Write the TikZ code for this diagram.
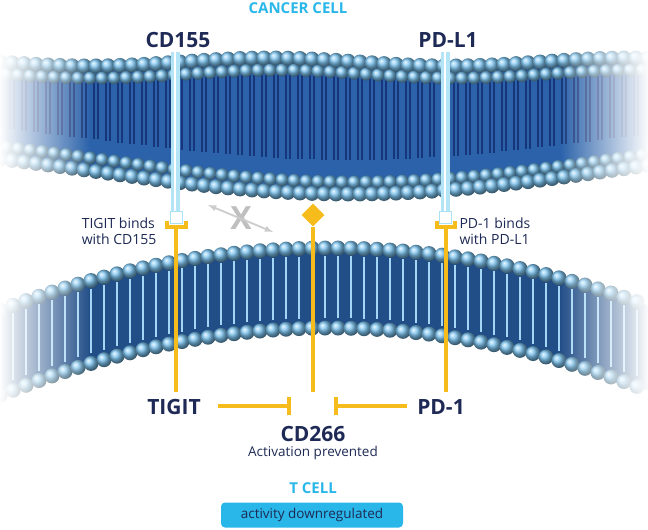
\documentclass[tikz,border=0pt]{standalone}
\usepackage{fontspec}
\setmainfont{Open Sans}
\usetikzlibrary{fadings,shapes.geometric}
\definecolor{navy}{HTML}{1E2A55}
\definecolor{cyanc}{HTML}{29B6E8}
\definecolor{gold}{HTML}{F5BC1C}
\definecolor{head}{HTML}{7CC4F0}
\definecolor{tail}{HTML}{16357A}
\definecolor{mem}{HTML}{2B62AA}
\tikzset{
 lbl/.style={text=navy,font=\bfseries\fontsize{21}{21}\selectfont},
 sm/.style={text=navy,font=\fontsize{14}{16}\selectfont,align=left},
 ttl/.style={text=cyanc,font=\bfseries\fontsize{15}{15}\selectfont},
 yel/.style={gold,line width=3.4pt},
 hd/.style={ball color=head,draw=none},
}
\begin{document}
\begin{tikzpicture}[x=1pt,y=-1pt]
\useasboundingbox (0,0) rectangle (648,530);
% upper membrane
\fill[mem] plot[domain=0:648,samples=60] (\x,{62+4*sin(\x)}) -- plot[domain=648:0,samples=60] (\x,{172+22*sin((\x-100)/500*180)}) -- cycle;
\foreach \x in {0,12,...,648}{
 \draw[tail,line width=1.2pt] (\x-2,{66}) -- (\x-2,{140+20*sin((\x-100)/500*180)});
 \draw[tail,line width=1.2pt] (\x+2,{66}) -- (\x+2,{140+20*sin((\x-100)/500*180)});
}
\foreach \x in {0,12,...,648}{
 \shade[hd] (\x,{62+4*sin(\x)}) circle (7.5);
 \shade[hd] (\x+6,{74+4*sin(\x)}) circle (6.5);
 \shade[hd] (\x,{172+22*sin((\x-100)/500*180)}) circle (7.5);
 \shade[hd] (\x+6,{160+22*sin((\x-100)/500*180)}) circle (6.5);
}
% lower membrane
\fill[mem!80!black] plot[domain=0:648,samples=60] (\x,{248+5.7*((\x-330)/100)^2}) -- plot[domain=648:0,samples=60] (\x,{328+6.2*((\x-330)/100)^2}) -- cycle;
\foreach \x in {0,13,...,648}{
 \draw[head!70!white,line width=1.2pt] (\x,{256+5.7*((\x-330)/100)^2}) -- (\x,{318+6.2*((\x-330)/100)^2});
}
\foreach \x in {0,13,...,648}{
 \shade[hd] (\x,{248+5.7*((\x-330)/100)^2}) circle (7.5);
 \shade[hd] (\x,{328+6.2*((\x-330)/100)^2}) circle (7.5);
}
% edge fades
\fill[white,path fading=east] (-1,0) rectangle (90,420);
\fill[white,path fading=west] (560,0) rectangle (649,420);
% receptor lines
\draw[cyanc!35,line width=9pt] (175,52) -- (175,212);
\draw[white,line width=2.5pt] (175,52) -- (175,212);
\node[draw=cyanc!40,fill=white,minimum size=12pt,inner sep=0pt] (sqL) at (176,217) {};
\draw[cyanc!35,line width=9pt] (445,52) -- (445,212);
\draw[white,line width=2.5pt] (445,52) -- (445,212);
\node[draw=cyanc!40,fill=white,minimum size=12pt,inner sep=0pt] (sqR) at (445,217) {};
% yellow cups
\draw[yel] (167,221) -- (167,227) -- (186,227) -- (186,221);
\draw[yel] (176,227) -- (176,392);
\draw[yel] (437,221) -- (437,227) -- (455,227) -- (455,221);
\draw[yel] (446,227) -- (446,392);
% diamond
\node[diamond,fill=gold,minimum size=23pt,inner sep=0pt] (dia) at (313,215) {};
\draw[yel] (dia.south) -- (313,392);
% X
\node[text=gray!50,font=\bfseries\fontsize{32}{32}\selectfont] (xx) at (241,218) {X};
\draw[gray!40,line width=1.8pt,<->,>=latex] (208,205) -- (273,232);
% labels
\node[ttl] (cc) at (298,8) {CANCER CELL};
\node[lbl] (cd155) at (178,40) {CD155};
\node[lbl] (pdl1) at (448,40) {PD-L1};
\node[sm,anchor=east] (tb) at (160,231) {TIGIT binds\\with CD155};
\node[sm,anchor=west] (pb) at (456,231) {PD-1 binds\\with PD-L1};
\node[lbl] (tigit) at (174,407) {TIGIT};
\node[lbl] (pd1) at (441,407) {PD-1};
\draw[yel] (218,406) -- (289,406);
\draw[yel] (289,397) -- (289,415);
\draw[yel] (407,406) -- (336,406);
\draw[yel] (336,397) -- (336,415);
\node[lbl] (cd266) at (313,434) {CD266};
\node[text=navy,font=\fontsize{13.5}{14}\selectfont] (ap) at (313,453) {Activation prevented};
\node[ttl] (tc) at (313,488) {T CELL};
\node[fill=cyanc,rounded corners=4pt,minimum width=182pt,minimum height=25pt,text=navy,font=\fontsize{13.5}{14}\selectfont] (box) at (312,515) {activity downregulated};
\end{tikzpicture}
\end{document}
